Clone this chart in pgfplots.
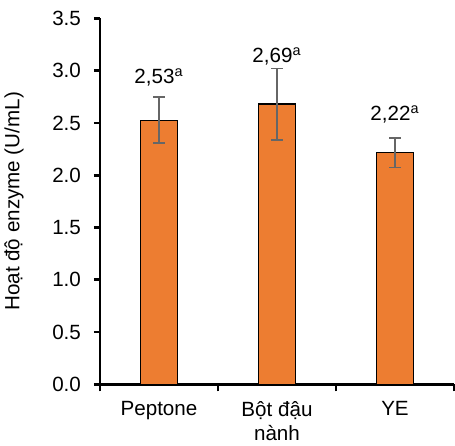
\documentclass[border=0pt]{standalone}
\usepackage{pgfplots}
\pgfplotsset{compat=1.18}
\usepackage{fontspec}
\setmainfont{Liberation Sans}
\definecolor{barorange}{HTML}{ED7D31}
\definecolor{errgray}{HTML}{666666}
\newcommand{\chartfont}{\fontsize{10.3}{12}\selectfont}

\begin{document}
\begin{tikzpicture}
\begin{axis}[
    width=177pt, height=183pt, scale only axis,
    xmin=-0.5, xmax=2.5, ymin=0, ymax=3.5,
    axis x line=bottom, axis y line=left,
    axis line style={line width=1.4pt, black, -},
    tick align=outside,
    major tick length=3pt, minor tick length=3.5pt,
    tick style={line width=1.4pt, black},
    xtick={0,1,2},
    xticklabels={Peptone,{Bột đậu\\nành},YE},
    x tick label style={align=center, yshift=-2pt},
    major x tick style={draw=none},
    minor xtick={-0.5,0.5,1.5,2.5},
    minor x tick style={draw=black, line width=1.4pt},
    ytick={0,0.5,1,1.5,2,2.5,3,3.5},
    y tick label style={/pgf/number format/fixed, /pgf/number format/fixed zerofill,
        /pgf/number format/precision=1, /pgf/number format/assume math mode=true, xshift=-3pt},
    tick label style={font=\chartfont},
    ylabel={Hoạt độ enzyme (U/mL)},
    ylabel style={font=\chartfont, at={(axis description cs:-0.243,0.5)}, anchor=center},
    clip=false,
]
\addplot[ybar, bar width=0.314, fill=barorange, draw=black, line width=0.7pt,
    error bars/.cd, y dir=both, y explicit,
    error bar style={errgray, line width=0.9pt},
    error mark options={errgray, line width=0.9pt, rotate=90, mark size=2.8pt}]
    coordinates {(0,2.525) +- (0,0.22) (1,2.68) +- (0,0.34) (2,2.215) +- (0,0.14)};
\addplot[draw=none, mark=none, nodes near coords, point meta=explicit symbolic,
    nodes near coords style={anchor=base, font=\chartfont, inner sep=0pt}]
    table[meta=lab] {
x y lab
0 2.875 {2,53\textsuperscript{a}}
1 3.078 {2,69\textsuperscript{a}}
2 2.52 {2,22\textsuperscript{a}}
};
\end{axis}
\pgfresetboundingbox
\path ([shift={(-50pt,-30.5pt)}]current axis.south west) rectangle ([shift={(0.5pt,9.2pt)}]current axis.north east);
\end{tikzpicture}
\end{document}
